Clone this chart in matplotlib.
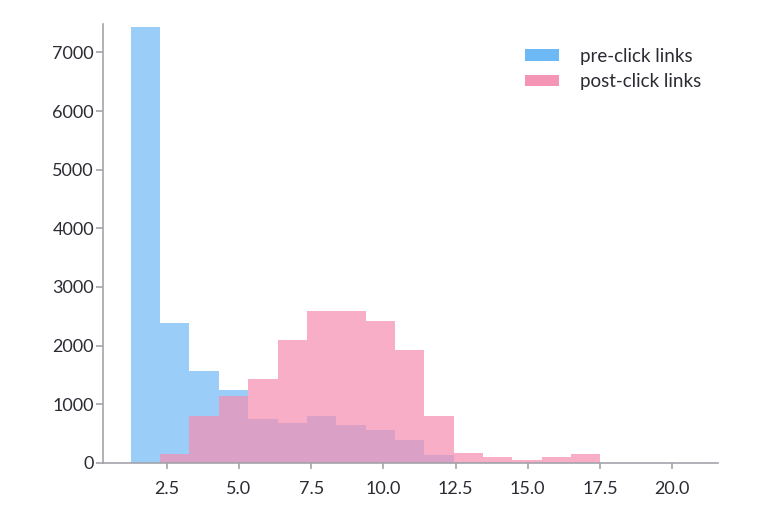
import matplotlib
matplotlib.use('Agg')
import matplotlib.pyplot as plt
import numpy as np

plt.rcParams['font.family'] = ['Lato', 'DejaVu Sans']

# shared bin edges
binStart = 1.25
binWidth = 1.0167
binCount = 19
binEdges = binStart + binWidth * np.arange(binCount + 1)
binCenters = (binEdges[:-1] + binEdges[1:]) / 2

# counts per bin
preClick = [7428, 2390, 1559, 1248, 750, 683, 795, 654, 557, 382, 127,
            12, 8, 5, 4, 3, 2, 2, 1]
postClick = [0, 144, 795, 1134, 1430, 2097, 2594, 2594, 2414, 1927, 795,
             173, 105, 54, 105, 149, 0, 0, 0]

xTicks = [2.5, 5.0, 7.5, 10.0, 12.5, 15.0, 17.5, 20.0]
yTicks = [0, 1000, 2000, 3000, 4000, 5000, 6000, 7000]

textColor = '#2b2b33'
axisColor = '#a3a3ab'

fig = plt.figure(figsize=(7.69, 5.16), dpi=100)
ax = fig.add_axes([0.134, 0.103, 0.80, 0.850])

ax.hist(binCenters, bins=binEdges, weights=preClick, color='#64B5F6', alpha=0.65,
        label='pre-click links')
ax.hist(binCenters, bins=binEdges, weights=postClick, color='#F48FB1', alpha=0.72,
        label='post-click links')

ax.set_xlim(0.29, 21.6)
ax.set_ylim(0, 7480)
ax.set_xticks(xTicks)
ax.set_xticklabels(['%.1f' % t for t in xTicks])
ax.set_yticks(yTicks)

for side in ['top', 'right']:
    ax.spines[side].set_visible(False)
for side in ['left', 'bottom']:
    ax.spines[side].set_color(axisColor)
    ax.spines[side].set_linewidth(1.2)

ax.tick_params(colors=axisColor, labelcolor=textColor, labelsize=13, width=1.2)
ax.tick_params(axis='x', length=4, pad=9)
ax.tick_params(axis='y', length=5, pad=1.5)

leg = ax.legend(loc='upper right', frameon=False, fontsize=13.5, handlelength=1.85,
                handleheight=0.55, labelspacing=0.45, handletextpad=1.1,
                bbox_to_anchor=(1.0, 0.985))
for txt in leg.get_texts():
    txt.set_color(textColor)
for h in leg.legend_handles:
    h.set_alpha(0.95)

plt.savefig('out.png', dpi=100)
